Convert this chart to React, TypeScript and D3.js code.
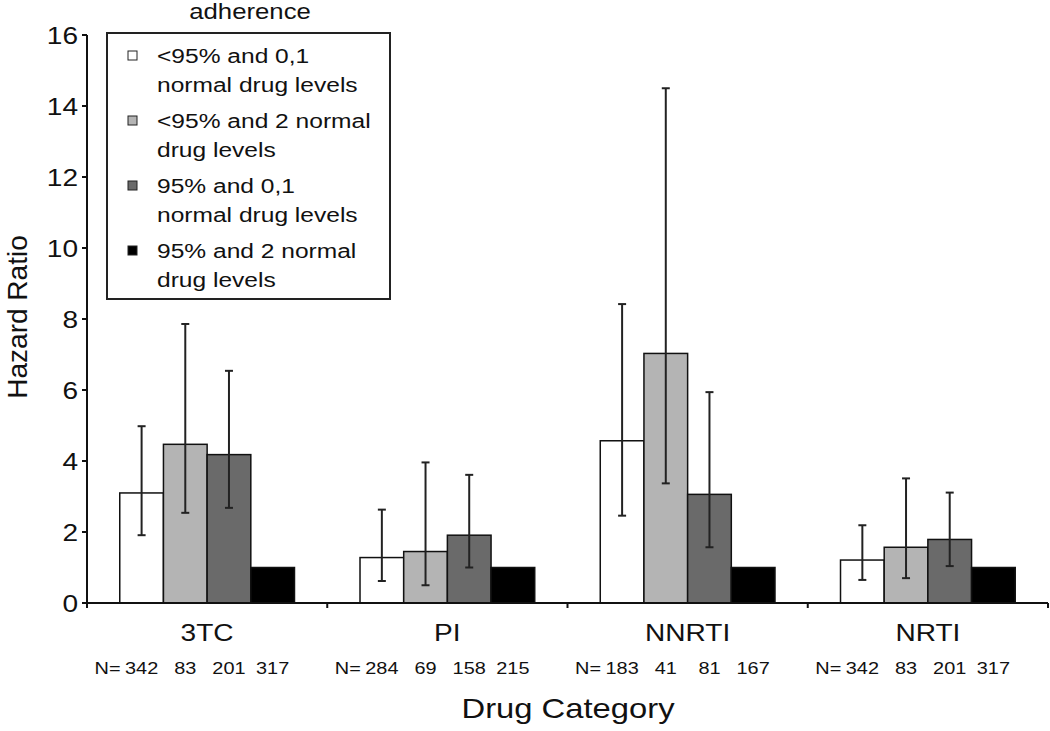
import React from "react";
import * as d3 from "d3";

const categories = ["3TC", "PI", "NNRTI", "NRTI"];
const seriesNames = [
  ["<95% and 0,1", "normal drug levels"],
  ["<95% and 2 normal", "drug levels"],
  ["95% and 0,1", "normal drug levels"],
  ["95% and 2 normal", "drug levels"],
];
const seriesColors = ["#ffffff", "#b4b4b4", "#6a6a6a", "#000000"];
// hazard ratios per category, per series
const values = [
  [3.1, 4.47, 4.18, 1.0],
  [1.28, 1.45, 1.91, 1.0],
  [4.57, 7.03, 3.06, 1.0],
  [1.21, 1.57, 1.79, 1.0],
];
const errHigh = [
  [4.98, 7.86, 6.54, null],
  [2.63, 3.96, 3.61, null],
  [8.42, 14.5, 5.94, null],
  [2.19, 3.51, 3.11, null],
];
const errLow = [
  [1.91, 2.54, 2.68, null],
  [0.62, 0.5, 1.0, null],
  [2.46, 3.37, 1.57, null],
  [0.65, 0.7, 1.04, null],
];
const nCounts = [
  [342, 83, 201, 317],
  [284, 69, 158, 215],
  [183, 41, 81, 167],
  [342, 83, 201, 317],
];
const yTicks = [0, 2, 4, 6, 8, 10, 12, 14, 16];

const FONT = "'Liberation Sans', Arial, Helvetica, sans-serif";
const SX = 1.17;

function T(props: {
  x: number;
  y: number;
  size: number;
  anchor?: string;
  sx?: number;
  children: React.ReactNode;
}) {
  const sx = props.sx ?? SX;
  return (
    <text
      transform={`translate(${props.x},${props.y}) scale(${sx},1)`}
      textAnchor={props.anchor ?? "start"}
      fontSize={props.size}
      fill="#111"
    >
      {props.children}
    </text>
  );
}

export default function App() {
  const W = 1050, H = 731;
  const left = 87, right = 1048, top = 35, bottom = 603;
  const x = d3.scaleBand<string>().domain(categories).range([left, right]).paddingInner(0).paddingOuter(0);
  const inner = d3
    .scaleBand<number>()
    .domain([0, 1, 2, 3])
    .range([0, x.bandwidth()])
    .paddingOuter(0.75)
    .paddingInner(0);
  const y = d3.scaleLinear().domain([0, 16]).range([bottom, top]);
  const cap = 4;
  const barCenter = (c: string, si: number) =>
    (x(c) as number) + (inner(si) as number) + inner.bandwidth() / 2;

  return (
    <svg width={W} height={H} style={{ position: "absolute", left: 0, top: 0, background: "#fff" }} fontFamily={FONT}>
      {/* bars */}
      {categories.map((c, ci) => (
        <g key={c}>
          {values[ci].map((v, si) => (
            <rect
              key={si}
              x={(x(c) as number) + (inner(si) as number)}
              y={y(v)}
              width={inner.bandwidth()}
              height={y(0) - y(v)}
              fill={seriesColors[si]}
              stroke="#111"
              strokeWidth={1.5}
            />
          ))}
          {values[ci].map((v, si) => {
            const hi = errHigh[ci][si];
            const lo = errLow[ci][si];
            if (hi == null || lo == null) return null;
            const cx = barCenter(c, si);
            return (
              <g key={"e" + si} stroke="#222" strokeWidth={2}>
                <line x1={cx} x2={cx} y1={y(hi)} y2={y(lo)} />
                <line x1={cx - cap} x2={cx + cap} y1={y(hi)} y2={y(hi)} />
                <line x1={cx - cap} x2={cx + cap} y1={y(lo)} y2={y(lo)} />
              </g>
            );
          })}
          <T x={(x(c) as number) + x.bandwidth() / 2} y={641} size={24} anchor="middle">
            {c}
          </T>
          {nCounts[ci].map((n, si) => (
            <T key={"n" + si} x={barCenter(c, si)} y={674} size={17} anchor="middle">
              {n}
            </T>
          ))}
          <T x={barCenter(c, 0) - 21} y={674} size={17} anchor="end">
            N=
          </T>
        </g>
      ))}

      {/* axes */}
      <line x1={left} x2={left} y1={top} y2={bottom} stroke="#111" strokeWidth={2} />
      <line x1={left} x2={right} y1={bottom} y2={bottom} stroke="#111" strokeWidth={2} />
      {yTicks.map((t) => (
        <g key={t}>
          <line x1={left - 5} x2={left} y1={y(t)} y2={y(t)} stroke="#111" strokeWidth={2} />
          <T x={left - 9} y={y(t) + 8.5} size={24} anchor="end">
            {t}
          </T>
        </g>
      ))}
      {categories.map((c) => (
        <line key={c} x1={x(c) as number} x2={x(c) as number} y1={bottom} y2={bottom + 5} stroke="#111" strokeWidth={2} />
      ))}
      <line x1={right} x2={right} y1={bottom} y2={bottom + 5} stroke="#111" strokeWidth={2} />

      {/* axis titles */}
      <text
        transform={`translate(27, ${317}) rotate(-90)`}
        textAnchor="middle"
        fontSize={28}
        fill="#111"
      >
        Hazard Ratio
      </text>
      <T x={568} y={718} size={28} anchor="middle">
        Drug Category
      </T>

      {/* legend */}
      <T x={250} y={19} size={22} anchor="middle">
        adherence
      </T>
      <rect x={107} y={33} width={283} height={266} fill="#fff" stroke="#222" strokeWidth={2} />
      {seriesNames.map((lines, si) => {
        const by = 63 + si * 65;
        return (
          <g key={si}>
            <rect x={128} y={by - 12} width={9} height={9} fill={seriesColors[si]} stroke="#222" strokeWidth={1} />
            {lines.map((ln, li) => (
              <T key={li} x={157} y={by + li * 29} size={21}>
                {ln}
              </T>
            ))}
          </g>
        );
      })}
    </svg>
  );
}
